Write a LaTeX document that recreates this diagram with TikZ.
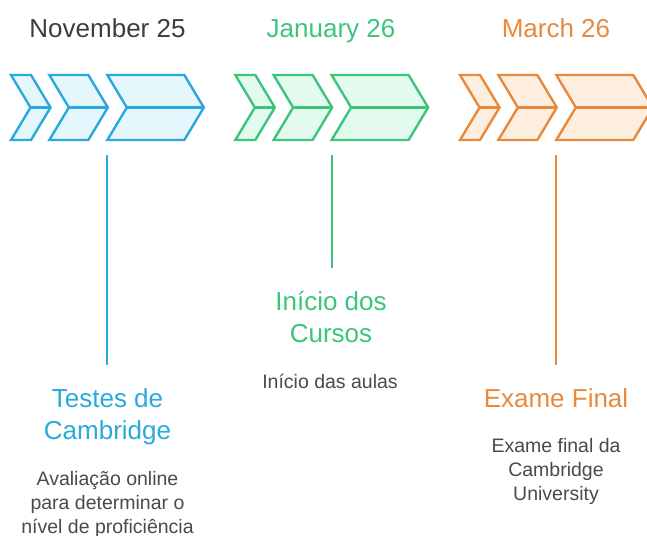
\documentclass[tikz,border=0pt]{standalone}
\usepackage{fontspec}
\setmainfont{Liberation Sans}

\definecolor{cblue}{HTML}{2AA9DC}
\definecolor{cbluebg}{HTML}{E6F6FD}
\definecolor{cgreen}{HTML}{3CC47D}
\definecolor{cgreenbg}{HTML}{E3FBEE}
\definecolor{corange}{HTML}{E8893C}
\definecolor{corangebg}{HTML}{FDEEDF}
\definecolor{dategray}{HTML}{3D3D3D}
\definecolor{descgray}{HTML}{4A4A4A}

\tikzset{
  chev/.style={line width=2.4pt,line join=miter},
  stem/.style={line width=2pt},
  datetxt/.style={font=\fontsize{26}{32}\selectfont,anchor=base},
  headtxt/.style={font=\fontsize{26}{32}\selectfont,align=center,anchor=base},
  desctxt/.style={font=\fontsize{19.5}{24}\selectfont,text=descgray,align=center,anchor=base},
}

\begin{document}
\begin{tikzpicture}[x=1pt,y=-1pt]
        \useasboundingbox (0,0) rectangle (647,535) ;
        \clip (0,0) rectangle (647,535) ;
        % three groups of chevrons
        \foreach \dx/\col/\bg in {0/cblue/cbluebg,224.3/cgreen/cgreenbg,449/corange/corangebg}{
          \foreach \a/\w in {11/20,49.3/39,107.3/77}{
            \draw[chev,draw=\col,fill=\bg]
            ({\dx+\a},75)--({\dx+\a+\w},75)--({\dx+\a+\w+19.5},107.5)
            --({\dx+\a+\w},140)--({\dx+\a},140)--({\dx+\a+19.5},107.5)--cycle ;
            \draw[chev,draw=\col] ({\dx+\a+19.5},107.5)--({\dx+\a+\w+19.5},107.5) ;
          }
        }
        % dates
        \node[datetxt,text=dategray] (nov) at (107.5,37.7) {November 25} ;
        \node[datetxt,text=cgreen] (jan) at (331,37.7) {January 26} ;
        \node[datetxt,text=corange] (mar) at (556,37.7) {March 26} ;
        % stems
        \coordinate (novtop) at (107.3,155) ;
        \coordinate (novbot) at (107.3,365) ;
        \coordinate (jantop) at (332,155) ;
        \coordinate (janbot) at (332,268) ;
        \coordinate (martop) at (556,155) ;
        \coordinate (marbot) at (556,365) ;
        \draw[stem,cblue] (novtop)--(novbot) ;
        \draw[stem,cgreen] (jantop)--(janbot) ;
        \draw[stem,corange] (martop)--(marbot) ;
        % headings and descriptions (base = last line)
        \node[headtxt,text=cblue] (testes) at (107.5,439) {Testes de\\Cambridge} ;
        \node[desctxt] (testesdesc) at (107.5,533)
        {Avaliação online\\para determinar o\\nível de proficiência} ;
        \node[headtxt,text=cgreen] (inicio) at (331,342) {Início dos\\Cursos} ;
        \node[desctxt] (iniciodesc) at (330,388) {Início das aulas} ;
        \node[headtxt,text=corange] (exame) at (556,407) {Exame Final} ;
        \node[desctxt] (examedesc) at (556,500)
        {Exame final da\\Cambridge\\University} ;
\end{tikzpicture}
\end{document}
